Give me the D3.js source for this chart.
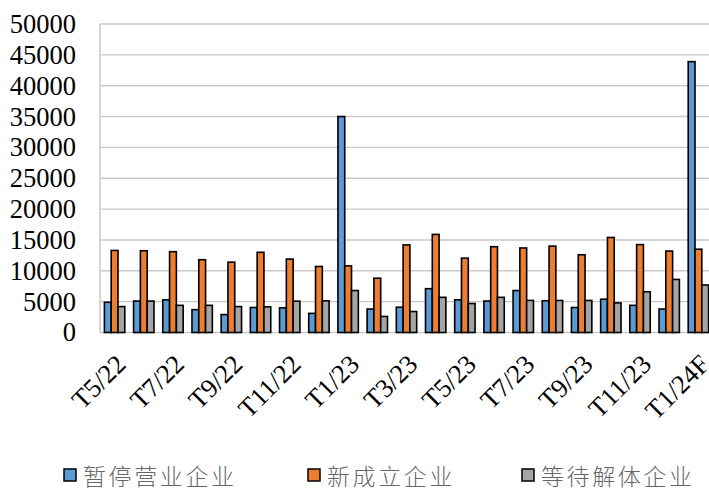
<!DOCTYPE html>
<html>
<head>
<meta charset="utf-8">
<script src="https://cdn.jsdelivr.net/npm/d3@7"></script>
<style>
  html, body { margin: 0; padding: 0; background: #fff; overflow: hidden; }
  svg { display: block; }
</style>
</head>
<body>
<svg id="chart" width="709" height="489"></svg>
<script>
// Monthly counts of enterprises (T = tháng / month)
const months = ["T5/22","T6/22","T7/22","T8/22","T9/22","T10/22","T11/22","T12/22",
  "T1/23","T2/23","T3/23","T4/23","T5/23","T6/23","T7/23","T8/23","T9/23","T10/23",
  "T11/23","T12/23","T1/24F"];
const seriesNames = ["暂停营业企业", "新成立企业", "等待解体企业"];
const suspended = [4900, 5100, 5300, 3700, 2900, 4050, 4000, 3100, 35000, 3800, 4100,
  7100, 5300, 5100, 6800, 5150, 4050, 5400, 4400, 3800, 43900];
const newlyFounded = [13300, 13250, 13100, 11800, 11400, 13000, 11900, 10700, 10800, 8800,
  14200, 15900, 12050, 13900, 13700, 14000, 12600, 15400, 14250, 13200, 13500];
const awaitingDissolution = [4200, 5100, 4400, 4400, 4200, 4150, 5080, 5130, 6800, 2600,
  3400, 5700, 4700, 5700, 5200, 5190, 5190, 4800, 6600, 8600, 7700];
const yTicks = [0, 5000, 10000, 15000, 20000, 25000, 30000, 35000, 40000, 45000, 50000];
const shownLabels = ["T5/22","T7/22","T9/22","T11/22","T1/23","T3/23","T5/23","T7/23",
  "T9/23","T11/23","T1/24F"];
const colors = ["#5B9BD5", "#ED7D31", "#A5A5A5"];

const values = [suspended, newlyFounded, awaitingDissolution];
const rows = months.map((m, i) => ({ month: m, vals: values.map(v => v[i]) }));

const svg = d3.select("#chart");
const plotLeft = 100, plotRight = 713, plotTop = 24, plotBottom = 332.5;
const serif = "'Liberation Serif', 'Times New Roman', serif";

const x0 = d3.scaleBand().domain(months).range([plotLeft, plotRight]).padding(0);
const x1 = d3.scaleBand().domain(d3.range(3))
  .range([4.4, x0.bandwidth() - 4.4]).padding(0);
const y = d3.scaleLinear().domain([0, 50000]).range([plotBottom, plotTop]);

// horizontal gridlines
svg.append("g")
  .selectAll("line")
  .data(yTicks)
  .join("line")
  .attr("x1", plotLeft).attr("x2", plotRight)
  .attr("y1", d => y(d)).attr("y2", d => y(d))
  .attr("stroke", "#c9c9c9").attr("stroke-width", 1.4);

// left value axis line
svg.append("line")
  .attr("x1", plotLeft).attr("x2", plotLeft)
  .attr("y1", y(50000)).attr("y2", y(0))
  .attr("stroke", "#c4c4c4").attr("stroke-width", 1.4);

// y tick labels
const yAxis = svg.append("g")
  .attr("transform", `translate(${plotLeft},0)`)
  .call(d3.axisLeft(y).tickValues(yTicks).tickSize(0).tickPadding(24).tickFormat(d3.format("d")));
yAxis.select(".domain").remove();
yAxis.selectAll("text")
  .attr("font-family", serif)
  .attr("font-size", 26.5)
  .attr("fill", "#000");

// grouped bars
const groups = svg.append("g")
  .selectAll("g")
  .data(rows)
  .join("g")
  .attr("transform", d => `translate(${x0(d.month)},0)`);

groups.selectAll("rect")
  .data(d => d.vals.map((v, k) => ({ k, v })))
  .join("rect")
  .attr("x", d => x1(d.k))
  .attr("width", x1.bandwidth())
  .attr("y", d => y(d.v))
  .attr("height", d => y(0) - y(d.v))
  .attr("fill", d => colors[d.k])
  .attr("stroke", "#000")
  .attr("stroke-width", 1.6);

// rotated category labels (every other month)
svg.append("g")
  .selectAll("text")
  .data(shownLabels)
  .join("text")
  .attr("transform", d => `translate(${x0(d) + x0.bandwidth() / 2},353) rotate(-45)`)
  .attr("text-anchor", "end")
  .attr("dy", "0.68em")
  .attr("font-family", serif)
  .attr("font-size", 26.5)
  .attr("fill", "#000")
  .text(d => d);

// legend
const legendX = [64, 308, 522];
const legend = svg.append("g")
  .selectAll("g")
  .data(seriesNames)
  .join("g")
  .attr("transform", (d, i) => `translate(${legendX[i]},469)`);
legend.append("rect")
  .attr("width", 12).attr("height", 12)
  .attr("fill", (d, i) => colors[i])
  .attr("stroke", "#000").attr("stroke-width", 1.5);
legend.append("text")
  .attr("x", 19).attr("y", 6)
  .attr("dominant-baseline", "central")
  .attr("font-family", "'Noto Sans CJK SC', sans-serif")
  .attr("font-weight", 300)
  .attr("font-size", 23)
  .attr("letter-spacing", 2.6)
  .attr("fill", "#666")
  .text(d => d);
</script>
</body>
</html>
